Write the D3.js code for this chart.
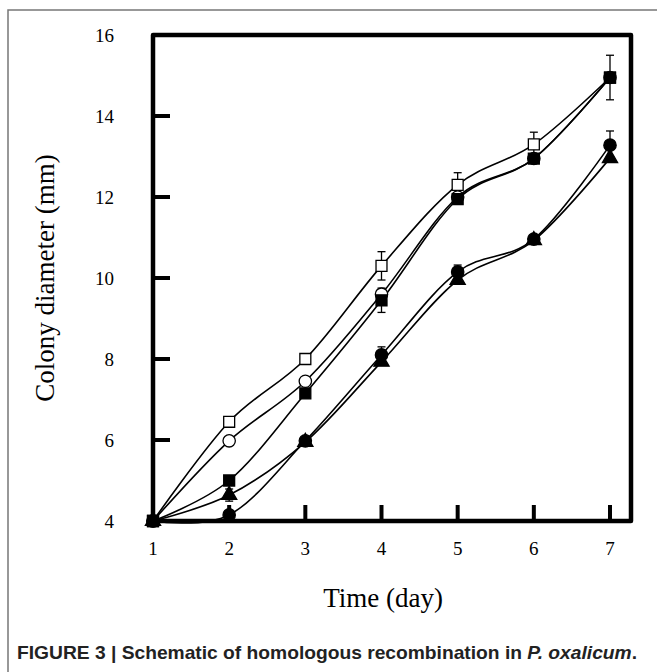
<!DOCTYPE html>
<html>
<head>
<meta charset="utf-8">
<script src="https://cdn.jsdelivr.net/npm/d3@7"></script>
<style>
  body { margin: 0; background: #fff; }
  svg { display: block; }
</style>
</head>
<body>
<svg width="657" height="672"></svg>
<script>
// values (colony diameter in mm)
const days = [1, 2, 3, 4, 5, 6, 7];
const openSquare = [4, 6.45, 8.0, 10.3, 12.3, 13.3, 14.95];
const openSquareErr = [0, 0, 0, 0.35, 0.3, 0.3, 0];
const filledSquare = [4, 5.0, 7.15, 9.45, 11.95, 12.95, 14.95];
const filledSquareErr = [0, 0, 0.1, 0.3, 0, 0, 0.55];
const openCircle = [4, 5.98, 7.45, 9.6, 12.0, 12.95, 14.95];
const openCircleErr = [0, 0, 0, 0, 0, 0, 0];
const filledCircle = [4, 4.15, 5.98, 8.1, 10.15, 10.96, 13.28];
const filledCircleErr = [0, 0, 0, 0.2, 0.17, 0, 0.35];
const triangle = [4, 4.64, 5.95, 7.93, 9.95, 10.93, 12.96];
const triangleErr = [0, 0.15, 0, 0, 0, 0, 0];
const yTicks = [4, 6, 8, 10, 12, 14, 16];
const xTicks = [1, 2, 3, 4, 5, 6, 7];

const series = [
  {vals: openSquare, err: openSquareErr, shape: d3.symbolSquare, size: 120, fill: '#fff'},
  {vals: openCircle, err: openCircleErr, shape: d3.symbolCircle, size: 120, fill: '#fff'},
  {vals: triangle, err: triangleErr, shape: d3.symbolTriangle, size: 100, fill: '#000'},
  {vals: filledCircle, err: filledCircleErr, shape: d3.symbolCircle, size: 120, fill: '#000'},
  {vals: filledSquare, err: filledSquareErr, shape: d3.symbolSquare, size: 120, fill: '#000'}
];

const svg = d3.select('svg');
const serif = 'Liberation Serif, Times New Roman, serif';

// outer figure border (top + left only)
svg.append('path')
  .attr('d', 'M8,672 V10 H657')
  .attr('fill', 'none').attr('stroke', '#777').attr('stroke-width', 1.5);

const x = d3.scaleLinear().domain([1, 7]).range([153, 610]);
const y = d3.scaleLinear().domain([4, 16]).range([521, 35]);
const right = 631;

const g = svg.append('g');

// frame
g.append('rect')
  .attr('x', x(1)).attr('y', y(16))
  .attr('width', right - x(1)).attr('height', y(4) - y(16))
  .attr('fill', 'none').attr('stroke', '#000').attr('stroke-width', 4.5)
  .attr('stroke-linejoin', 'round');

// inward ticks
g.selectAll('.ytick').data(yTicks.slice(1, -1)).enter().append('line')
  .attr('x1', x(1)).attr('x2', x(1) + 17)
  .attr('y1', d => y(d)).attr('y2', d => y(d))
  .attr('stroke', '#000').attr('stroke-width', 4);
g.selectAll('.xtick').data(xTicks.slice(1)).enter().append('line')
  .attr('x1', d => x(d)).attr('x2', d => x(d))
  .attr('y1', y(4)).attr('y2', y(4) - 16)
  .attr('stroke', '#000').attr('stroke-width', 4);

// tick labels
g.selectAll('.ylab').data(yTicks).enter().append('text')
  .attr('x', 114).attr('y', d => y(d)).attr('dy', '0.35em')
  .attr('text-anchor', 'end')
  .attr('font-family', serif).attr('font-size', 19)
  .text(d => d);
g.selectAll('.xlab').data(xTicks).enter().append('text')
  .attr('x', d => x(d)).attr('y', 555)
  .attr('text-anchor', 'middle')
  .attr('font-family', serif).attr('font-size', 19)
  .text(d => d);

// axis titles
svg.append('text')
  .attr('x', 383).attr('y', 607)
  .attr('text-anchor', 'middle')
  .attr('font-family', serif).attr('font-size', 27)
  .text('Time (day)');
svg.append('text')
  .attr('transform', 'translate(54,278) rotate(-90)')
  .attr('text-anchor', 'middle')
  .attr('font-family', serif).attr('font-size', 27)
  .text('Colony diameter (mm)');

// smoothed lines
const line = d3.line()
  .x((d, i) => x(days[i]))
  .y(d => y(d))
  .curve(d3.curveCardinal.tension(0));

series.forEach(s => {
  g.append('path')
    .attr('d', line(s.vals))
    .attr('fill', 'none').attr('stroke', '#000').attr('stroke-width', 1.6);
});

// error bars
series.forEach(s => {
  const pts = days.map((d, i) => ({d, v: s.vals[i], e: s.err[i]})).filter(p => p.e > 0);
  const eb = g.append('g').attr('stroke', '#000').attr('stroke-width', 1.3);
  pts.forEach(p => {
    eb.append('line').attr('x1', x(p.d)).attr('x2', x(p.d))
      .attr('y1', y(p.v - p.e)).attr('y2', y(p.v + p.e));
    [p.v - p.e, p.v + p.e].forEach(v => {
      eb.append('line').attr('x1', x(p.d) - 4).attr('x2', x(p.d) + 4)
        .attr('y1', y(v)).attr('y2', y(v));
    });
  });
});

// markers
series.forEach(s => {
  g.selectAll(null).data(s.vals).enter().append('path')
    .attr('transform', (d, i) => `translate(${x(days[i])},${y(d)})`)
    .attr('d', d3.symbol().type(s.shape).size(s.size))
    .attr('fill', s.fill).attr('stroke', '#000').attr('stroke-width', 1.3);
});

// caption
const cap = svg.append('text')
  .attr('x', 17).attr('y', 659)
  .attr('font-family', 'Liberation Sans, Arial, sans-serif')
  .attr('font-weight', 'bold').attr('font-size', 19)
  .attr('fill', '#222')
  .attr('textLength', 620).attr('lengthAdjust', 'spacingAndGlyphs');
cap.append('tspan').text('FIGURE 3 | Schematic of homologous recombination in ');
cap.append('tspan').attr('font-style', 'italic').text('P. oxalicum');
cap.append('tspan').text('.');
</script>
</body>
</html>
